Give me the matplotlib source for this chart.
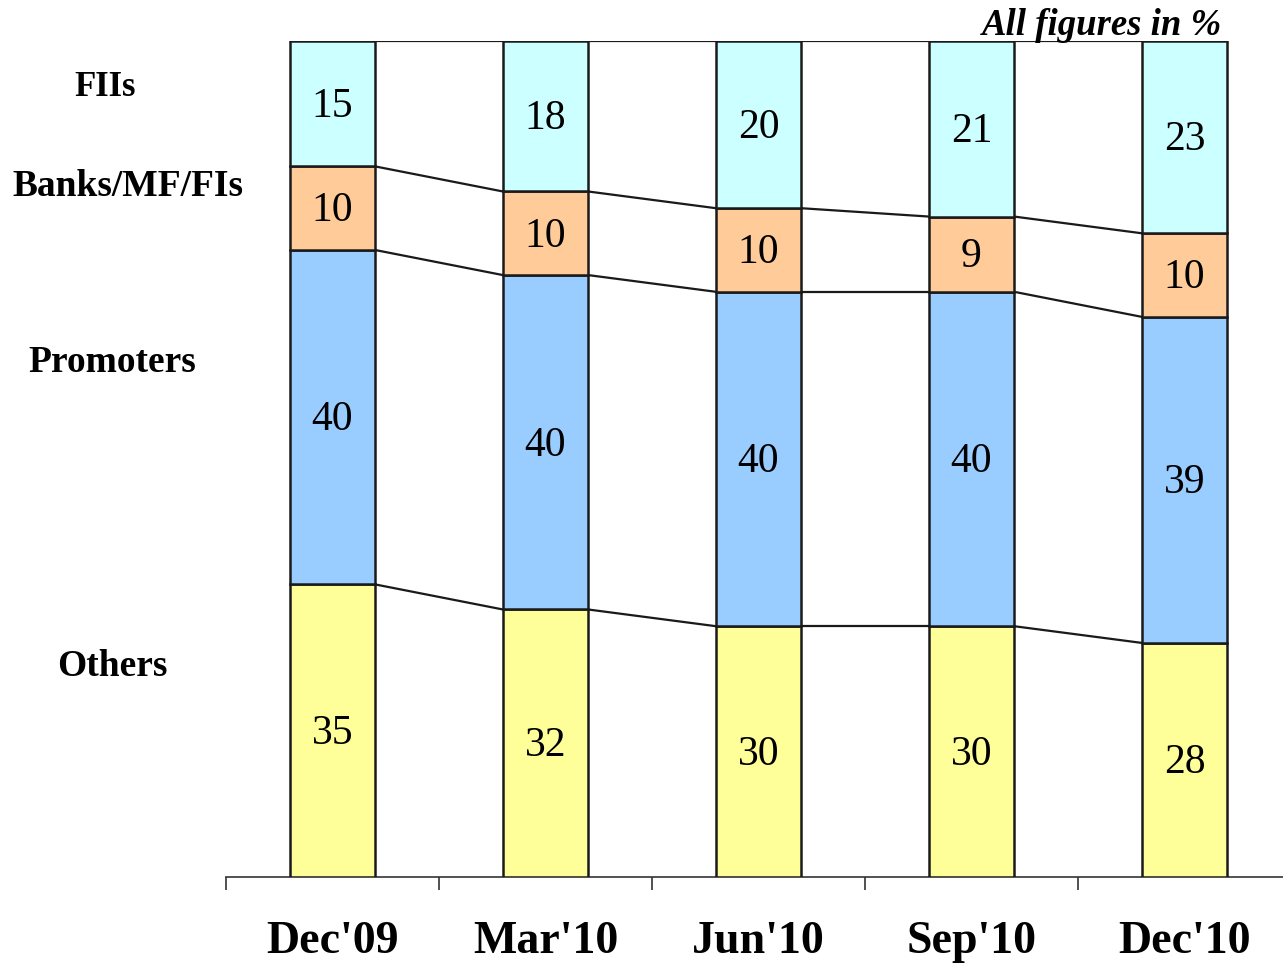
import matplotlib
matplotlib.use("Agg")
import matplotlib.pyplot as plt
import matplotlib.transforms as mtransforms
import numpy as np

# Shareholding pattern, percent of total
quarters = ["Dec'09", "Mar'10", "Jun'10", "Sep'10", "Dec'10"]
others = [35, 32, 30, 30, 28]
promoters = [40, 40, 40, 40, 39]
banks_mf_fis = [10, 10, 10, 9, 10]
fiis = [15, 18, 20, 21, 23]

series_names = ["Others", "Promoters", "Banks/MF/FIs", "FIIs"]
series_colors = ["#FFFF99", "#99CCFF", "#FFCC99", "#CCFFFF"]
series_values = [others, promoters, banks_mf_fis, fiis]

SERIF = "Liberation Serif"
W, H, DPI = 1283, 964, 100

fig = plt.figure(figsize=(W / DPI, H / DPI), dpi=DPI)
ax = fig.add_axes([226 / W, 87 / H, 1057 / W, 836 / H])

x = np.arange(len(quarters))
bar_w = 0.40
edge = "#1a1a1a"

# nudge value labels slightly downward so digits sit centred in each segment
down = mtransforms.ScaledTranslation(0, -3 / DPI, fig.dpi_scale_trans)

bottom = np.zeros(len(quarters))
boundaries = [bottom.copy()]
for vals, color in zip(series_values, series_colors):
    vals = np.asarray(vals, dtype=float)
    ax.bar(x, vals, bottom=bottom, width=bar_w, color=color,
           edgecolor=edge, linewidth=1.8, zorder=3)
    for xi, b, v in zip(x, bottom, vals):
        ax.text(xi, b + v / 2, f"{int(v)}", ha="center", va="center",
                fontsize=30, family=SERIF, color="black", zorder=4,
                transform=ax.transData + down)
    bottom = bottom + vals
    boundaries.append(bottom.copy())

# Series lines joining the segment boundaries of neighbouring bars
for level in boundaries[1:]:
    for i in range(len(x) - 1):
        ax.plot([x[i] + bar_w / 2, x[i + 1] - bar_w / 2],
                [level[i], level[i + 1]], color=edge, lw=1.6, zorder=2,
                solid_capstyle="butt")

ax.set_xlim(-0.5, (W - 226) / 213 - 0.5)
ax.set_ylim(0, 100)

for side in ["left", "right", "top"]:
    ax.spines[side].set_visible(False)
ax.spines["bottom"].set_color("#333333")
ax.spines["bottom"].set_linewidth(1.2)
ax.set_yticks([])

ax.set_xticks(x)
ax.set_xticklabels([])
ax.tick_params(axis="x", which="major", length=0)
ax.set_xticks(np.arange(len(quarters)) - 0.5, minor=True)
ax.tick_params(axis="x", which="minor", length=9.5, width=1.2,
               color="#333333", direction="out")

# Category labels below the axis
blend = mtransforms.blended_transform_factory(ax.transData, fig.transFigure)
for xi, q in zip(x, quarters):
    ax.text(xi, 1 - 953 / H, q, transform=blend, ha="center",
            va="baseline", fontsize=33, fontweight="bold", family=SERIF,
            clip_on=False)

# Series names on the left
left_labels = [("FIIs", 105, 87, 25), ("Banks/MF/FIs", 128, 187, 27),
               ("Promoters", 112, 363, 27), ("Others", 112, 667, 27)]
for text, px, py, size in left_labels:
    fig.text(px / W, 1 - py / H, text, ha="center", va="center",
             fontsize=size, fontweight="bold", family=SERIF)

fig.text(1222 / W, 1 - 35 / H, "All figures in %", ha="right",
         va="baseline", fontsize=26.5, fontweight="bold", style="italic",
         family=SERIF)

fig.savefig("out.png", dpi=DPI)
